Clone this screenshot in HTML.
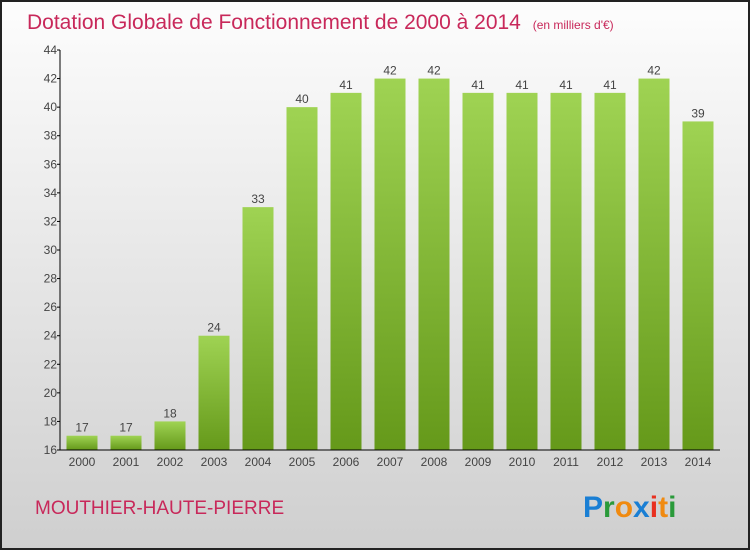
<!DOCTYPE html>
<html><head><meta charset="utf-8">
<style>
body{margin:0;width:750px;height:550px;overflow:hidden;font-family:"Liberation Sans",sans-serif}
</style></head>
<body>
<svg width="750" height="550" xmlns="http://www.w3.org/2000/svg">
<defs>
<linearGradient id="bg" x1="0" y1="0" x2="0" y2="1"><stop offset="0" stop-color="#fdfdfd"/><stop offset="1" stop-color="#cfcfcf"/></linearGradient>
<linearGradient id="bar" x1="0" y1="0" x2="0" y2="1"><stop offset="0" stop-color="#9fd353"/><stop offset="1" stop-color="#65991a"/></linearGradient>
</defs>
<rect x="1" y="1" width="748" height="548" fill="url(#bg)" stroke="#222" stroke-width="2"/>
<text x="27" y="29" font-size="21" fill="#c8285a">Dotation Globale de Fonctionnement de 2000 à 2014 <tspan font-size="12" dx="6">(en milliers d'€)</tspan></text>
<g id="yaxis"></g>
<g id="bars"></g>
<g id="xaxis"></g>
<text x="35" y="514" font-size="19" fill="#c8285a">MOUTHIER-HAUTE-PIERRE</text>
<g font-size="30" font-weight="bold">
<text x="583" y="517"><tspan fill="#1a7fd4">P</tspan><tspan fill="#2a9a3a">r</tspan><tspan fill="#f08a10">o</tspan><tspan fill="#1a7fd4">x</tspan><tspan fill="#e83020">i</tspan><tspan fill="#f08a10">t</tspan><tspan fill="#2a9a3a">i</tspan></text>
</g>
</svg>
<script>
const years=["2000","2001","2002","2003","2004","2005","2006","2007","2008","2009","2010","2011","2012","2013","2014"];
const values=[17,17,18,24,33,40,41,42,42,41,41,41,41,42,39];
const yTicks=[16,18,20,22,24,26,28,30,32,34,36,38,40,42,44];
const NS="http://www.w3.org/2000/svg";
const y0=450,y1=50,vmin=16,vmax=44,x0=60,band=44;
const Y=v=>y0-(v-vmin)/(vmax-vmin)*(y0-y1);
const X=i=>x0+band*i+band/2;
function mk(t,a,p){const e=document.createElementNS(NS,t);for(const k in a)e.setAttribute(k,a[k]);p.appendChild(e);return e;}
const ya=document.getElementById('yaxis'),bg=document.getElementById('bars'),xa=document.getElementById('xaxis');
mk('line',{x1:x0,y1:y1,x2:x0,y2:y0,stroke:'#000'},ya);
yTicks.forEach(t=>{
 mk('line',{x1:x0-3,y1:Y(t),x2:x0,y2:Y(t),stroke:'#000'},ya);
 const tx=mk('text',{x:x0-3,y:Y(t)+4,'font-size':12,fill:'#444','text-anchor':'end'},ya);tx.textContent=t;
 
 
});
values.forEach((v,i)=>{
 const r=mk('rect',{x:X(i)-15.5,y:Y(v),width:31,height:y0-Y(v),fill:'url(#bar)'},bg);
 
 
 const l=mk('text',{x:X(i),y:Y(v)-4,'font-size':12,fill:'#444','text-anchor':'middle'},bg);l.textContent=v;
 
 
 const xl=mk('text',{x:X(i),y:466,'font-size':12,fill:'#444','text-anchor':'middle'},xa);xl.textContent=years[i];
 
 
});
mk('line',{x1:x0,y1:y0,x2:x0+band*years.length,y2:y0,stroke:'#000'},xa);
</script>
</body></html>
